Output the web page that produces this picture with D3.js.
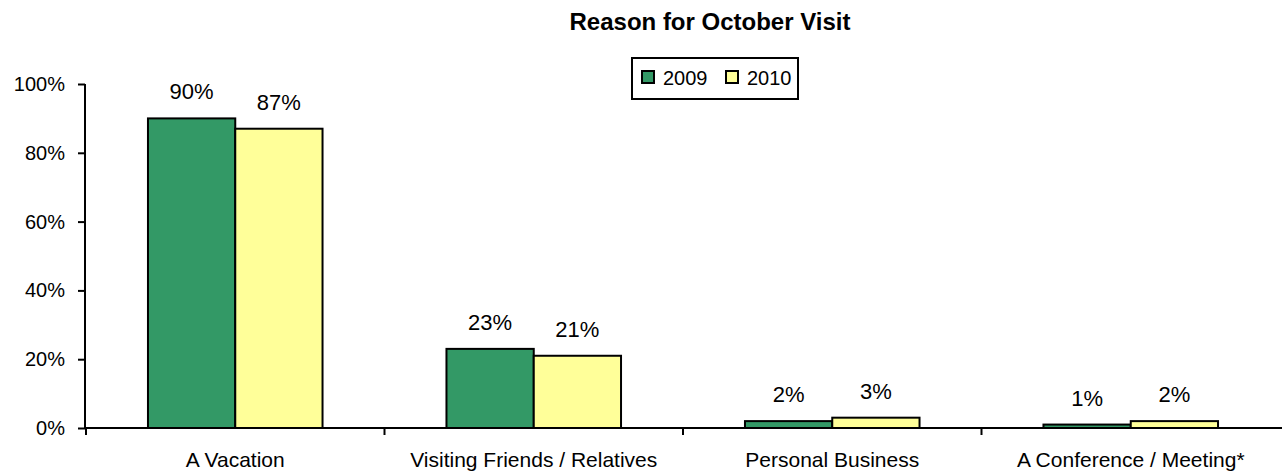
<!DOCTYPE html>
<html lang="en">
<head>
<meta charset="utf-8">
<title>Reason for October Visit</title>
<style>
  body { margin: 0; background: #fff; }
  svg text { font-family: "Liberation Sans", Arial, sans-serif; fill: #000; }
</style>
</head>
<body>
<svg width="1282" height="472"></svg>
<script src="https://cdn.jsdelivr.net/npm/d3@7/dist/d3.min.js"></script>
<script>
// chart data
var categories = ["A Vacation", "Visiting Friends / Relatives", "Personal Business", "A Conference / Meeting*"];
var seriesNames = ["2009", "2010"];
var values2009 = [90, 23, 2, 1];
var values2010 = [87, 21, 3, 2];
var yTicks = [0, 20, 40, 60, 80, 100];
var colors = ["#339966", "#ffff99"];

var svg = d3.select("svg");

var x0 = d3.scaleBand().domain(categories).range([86, 1280]).paddingInner(0).paddingOuter(0);
var x1 = d3.scaleBand().domain(seriesNames).range([0, x0.bandwidth()]).paddingInner(0).paddingOuter(0.71);
var y = d3.scaleLinear().domain([0, 100]).range([428, 84]);

// title
svg.append("text")
    .attr("x", 710).attr("y", 30)
    .attr("text-anchor", "middle")
    .style("font-size", "24px").style("font-weight", "bold")
    .text("Reason for October Visit");

// y axis
var yAxis = svg.append("g")
    .attr("transform", "translate(85,0)")
    .call(d3.axisLeft(y).tickValues(yTicks).tickSize(7).tickPadding(13)
        .tickFormat(function(d) { return d + "%"; }));
yAxis.select(".domain").attr("stroke", "#000").attr("stroke-width", 2).attr("d", "M0,84V428");
yAxis.selectAll(".tick line").attr("stroke", "#000").attr("stroke-width", 2);
yAxis.selectAll(".tick text").style("font-size", "20px").attr("fill", "#000");

// bars
var rows = categories.map(function(c, i) {
    return { cat: c, vals: [values2009[i], values2010[i]] };
});
var groups = svg.append("g").selectAll("g").data(rows).enter().append("g")
    .attr("transform", function(d) { return "translate(" + x0(d.cat) + ",0)"; });

groups.selectAll("rect")
    .data(function(d) { return d.vals.map(function(v, j) { return { s: seriesNames[j], v: v, j: j }; }); })
    .enter().append("rect")
    .attr("x", function(d) { return x1(d.s); })
    .attr("y", function(d) { return y(d.v); })
    .attr("width", x1.bandwidth())
    .attr("height", function(d) { return y(0) - y(d.v); })
    .attr("fill", function(d) { return colors[d.j]; })
    .attr("stroke", "#000").attr("stroke-width", 2);

groups.selectAll("text.lbl")
    .data(function(d) { return d.vals.map(function(v, j) { return { s: seriesNames[j], v: v }; }); })
    .enter().append("text")
    .attr("class", "lbl")
    .attr("x", function(d) { return x1(d.s) + x1.bandwidth() / 2; })
    .attr("y", function(d) { return y(d.v) - 19; })
    .attr("text-anchor", "middle")
    .style("font-size", "22px")
    .text(function(d) { return d.v + "%"; });

// x axis
var xAxis = svg.append("g")
    .attr("transform", "translate(0,428)")
    .call(d3.axisBottom(x0).tickSize(0).tickPadding(0));
xAxis.select(".domain").attr("stroke", "#000").attr("stroke-width", 2).attr("d", "M85,0H1282");
xAxis.selectAll(".tick text").attr("y", 39).attr("dy", 0).style("font-size", "21px").attr("fill", "#000");
// category boundary ticks
xAxis.selectAll(".sep").data(categories.slice(1)).enter().append("line")
    .attr("class", "sep")
    .attr("x1", function(d) { return x0(d); }).attr("x2", function(d) { return x0(d); })
    .attr("y1", 0).attr("y2", 7)
    .attr("stroke", "#000").attr("stroke-width", 2);
xAxis.append("line").attr("x1", 86).attr("x2", 86).attr("y1", 0).attr("y2", 7)
    .attr("stroke", "#000").attr("stroke-width", 2);

// legend
var legend = svg.append("g").attr("transform", "translate(632,58)");
legend.append("rect").attr("width", 166).attr("height", 41)
    .attr("fill", "#fff").attr("stroke", "#000").attr("stroke-width", 2);
var items = legend.selectAll("g").data(seriesNames).enter().append("g")
    .attr("transform", function(d, i) { return "translate(" + (10 + i * 84) + ",0)"; });
items.append("rect").attr("x", 0).attr("y", 13).attr("width", 12).attr("height", 12)
    .attr("fill", function(d, i) { return colors[i]; })
    .attr("stroke", "#000").attr("stroke-width", 2);
items.append("text").attr("x", 21).attr("y", 27).style("font-size", "20px")
    .text(function(d) { return d; });
</script>
</body>
</html>
